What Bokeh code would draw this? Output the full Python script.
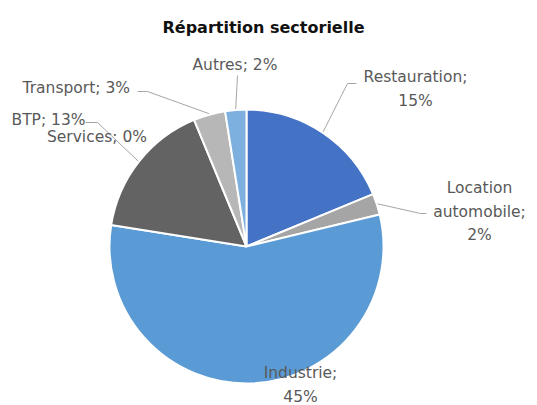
import math
from bokeh.plotting import figure
from bokeh.models import Range1d, ColumnDataSource
from bokeh.core.properties import value
from bokeh.embed import file_html
from bokeh.resources import INLINE

# ---- data ----
categories = ["Restauration", "Location automobile", "Industrie", "Services", "BTP", "Transport", "Autres"]
values = [15, 2, 45, 0, 13, 3, 2]
colors = ["#4472C4", "#A5A5A5", "#5B9BD5", "#FFC000", "#636363", "#B7B7B7", "#7EB0DF"]
label_lines = [["Restauration;", "15%"], ["Location", "automobile;", "2%"], ["Industrie;", "45%"],
               ["Services; 0%"], ["BTP; 13%"], ["Transport; 3%"], ["Autres; 2%"]]
title = "Répartition sectorielle"

# ---- layout (pixel space, y measured from top) ----
W, H = 537, 405
CX, CY, R = 246, 246, 137
FONT = "DejaVu Sans"
LH = 23.5
label_pos = [(415, 88.5, "center"), (479, 211, "center"), (300, 384.5, "center"),
             (96.5, 136, "center"), (11, 119, "left"), (22, 87, "left"), (192, 64, "left")]
# leader line bend/end points (None = no leader)
leaders = [[(347, 83), (356, 83)], [(420, 213), (426, 213)], None, None,
           [(97, 122), (85, 122)], [(147, 91), (137, 91)], [(237, 75)]]

def Y(y):
    return H - y

p = figure(width=W, height=H, x_range=Range1d(0, W), y_range=Range1d(0, H),
           output_backend="svg", toolbar_location=None, min_border=0)
p.axis.visible = False
p.grid.visible = False
p.outline_line_color = None
p.background_fill_color = "white"
p.border_fill_color = "white"

total = sum(values)
starts, ends, cols, mids = [], [], [], []
cum = 0
for v, c in zip(values, colors):
    t0 = cum / total * 2 * math.pi
    t1 = (cum + v) / total * 2 * math.pi
    mids.append((t0 + t1) / 2)
    cum += v
    if v > 0:
        starts.append(math.pi / 2 - t1)
        ends.append(math.pi / 2 - t0)
        cols.append(c)

src = ColumnDataSource(dict(s=starts, e=ends, c=cols))
p.wedge(x=CX, y=Y(CY), radius=R, start_angle="s", end_angle="e", direction="anticlock",
        fill_color="c", line_color="white", line_width=2, source=src)

# leader lines
for m, ld in zip(mids, leaders):
    if ld is None:
        continue
    ex = CX + (R + 1) * math.sin(m)
    ey = CY - (R + 1) * math.cos(m)
    xs = [ex] + [pt[0] for pt in ld]
    ys = [Y(ey)] + [Y(pt[1]) for pt in ld]
    p.line(xs, ys, line_color="#A6A6A6", line_width=1)

# labels (one text per line)
tx, ty, tt, ta = [], [], [], []
for lines, (lx, ly, al) in zip(label_lines, label_pos):
    n = len(lines)
    for i, ln in enumerate(lines):
        tx.append(lx)
        ty.append(Y(ly + (i - (n - 1) / 2) * LH))
        tt.append(ln)
        ta.append(al)
lsrc = ColumnDataSource(dict(x=tx, y=ty, t=tt, a=ta))
p.text(x="x", y="y", text="t", text_align="a", text_baseline="middle", source=lsrc,
       text_font=value(FONT), text_font_size="15.5px", text_color="#595959")

# title
p.text(x=[263], y=[Y(27)], text=[title], text_align="center", text_baseline="middle",
       text_font=value(FONT), text_font_size="16px", text_font_style="bold", text_color="#111111")

open("out.html", "w").write(file_html(p, INLINE))
